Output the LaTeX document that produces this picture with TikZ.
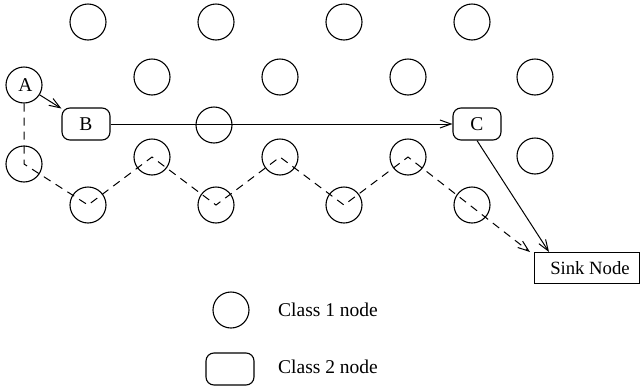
\documentclass[tikz,border=0pt]{standalone}
\usepackage{fontspec}
\setmainfont{Liberation Serif}
\usetikzlibrary{arrows.meta}
\begin{document}
\begin{tikzpicture}[x=1pt,y=-1pt,
  lbl/.style={font=\fontsize{19.5}{23}\selectfont},
  cls1/.style={circle,draw,line width=1.1pt,minimum size=36pt,inner sep=0pt,lbl},
  cls2/.style={rectangle,rounded corners=8pt,draw,line width=1.1pt,minimum width=48pt,minimum height=32pt,inner sep=0pt,lbl},
  sinkbox/.style={rectangle,draw,line width=1pt,minimum width=105pt,minimum height=31pt,inner sep=0pt,font=\fontsize{18.7}{22}\selectfont},
  conn/.style={line width=1pt,-{Straight Barb[length=11pt,width=8pt]}},
  dconn/.style={conn,dash pattern=on 8pt off 6pt}]
\useasboundingbox (0,0) rectangle (641,389);
% row 1
\node[cls1] (t1) at (88,22) {};
\node[cls1] (t2) at (216,22) {};
\node[cls1] (t3) at (344,22) {};
\node[cls1] (t4) at (472,22) {};
% row 2
\node[cls1] (A) at (24,85) {\hspace*{3pt}A};
\node[cls1] (u1) at (152,77) {};
\node[cls1] (u2) at (280,77) {};
\node[cls1] (u3) at (408,77) {};
\node[cls1] (u4) at (535,77) {};
% B-C row
\node[cls2] (B) at (86,124) {B};
\node[cls1] (m1) at (214,125) {};
\node[cls2] (C) at (477,124) {C};
% row 3
\node[cls1] (v0) at (24,164) {};
\node[cls1] (v1) at (152,157) {};
\node[cls1] (v2) at (280,157) {};
\node[cls1] (v3) at (408,157) {};
\node[cls1] (v4) at (535,156) {};
% row 4
\node[cls1] (w1) at (88,205) {};
\node[cls1] (w2) at (216,205) {};
\node[cls1] (w3) at (344,205) {};
\node[cls1] (w4) at (472,205) {};
% sink
\node[sinkbox] (sink) at (587,268) {\hspace*{6pt}Sink Node};
% legend
\node[cls1] (L1) at (231,310) {};
\node[lbl,anchor=west,inner sep=0pt] (L1t) at (278,310) {Class 1 node};
\node[cls2] (L2) at (230,369) {};
\node[lbl,anchor=west,inner sep=0pt] (L2t) at (278,367) {Class 2 node};
% connectors
\draw[conn] (A) -- (B);
\draw[conn] (B) -- (C);
\draw[conn] (C.south) -- ([xshift=15pt]sink.north west);
\draw[dconn] (A) -- (v0.center) -- (w1.center) -- (v1.center) -- (w2.center) -- (v2.center) -- (w3.center) -- (v3.center) -- ([xshift=-4pt]sink.north west);
\end{tikzpicture}
\end{document}
